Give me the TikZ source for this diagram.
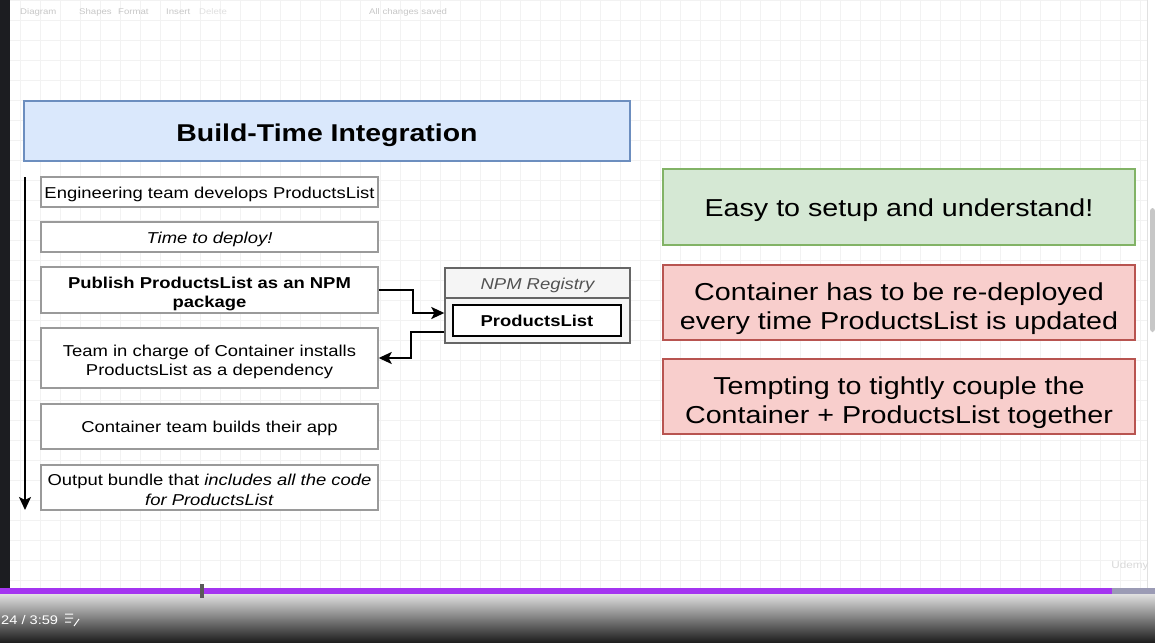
\documentclass[tikz,border=0pt]{standalone}
\usepackage{fontspec}
\setmainfont[FakeStretch=1.17]{Liberation Sans}
\usetikzlibrary{arrows.meta}
\definecolor{titlefill}{HTML}{DAE8FC}
\definecolor{titleline}{HTML}{6C8EBF}
\definecolor{goodfill}{HTML}{D5E8D4}
\definecolor{goodline}{HTML}{82B366}
\definecolor{badfill}{HTML}{F8CECC}
\definecolor{badline}{HTML}{B85450}
\definecolor{stepgray}{HTML}{9A9A9A}
\definecolor{regfill}{HTML}{F5F5F5}
\definecolor{regline}{HTML}{666666}
\definecolor{darkstrip}{HTML}{1C1D21}
\definecolor{progress}{HTML}{A435F0}
\definecolor{restbar}{HTML}{9B9BB5}
\newcommand\smalltop{\rule{0pt}{19.5pt}}
\newcommand\bigtop{\rule{0pt}{30pt}}
\tikzset{
	gridline/.style={black!5,line width=0.6pt},
	toolbartext/.style={black!22,font=\fontsize{8.2}{10}\selectfont,inner sep=0pt,anchor=west},
	linebox/.style 2 args={execute at begin node={\rule[-#2]{0pt}{\dimexpr#1+#2\relax}},execute at end node={\rule[-#2]{0pt}{\dimexpr#1+#2\relax}}},
	stepbox/.style={draw=stepgray,line width=1.4pt,fill=white,minimum width=337pt,inner sep=0pt,align=center,font=\fontsize{15.76}{19.3}\selectfont,linebox={16.2pt}{3.6pt}},
	notebox/.style={line width=1.4pt,minimum width=472pt,minimum height=75pt,inner sep=0pt,align=center,font=\fontsize{24.5}{29.3}\selectfont,linebox={25pt}{5.6pt}},
	flow/.style={-{Stealth[length=13pt,width=12pt,inset=3pt]},line width=1.8pt,black},
}
\begin{document}
\begin{tikzpicture}[x=1pt,y=-1pt]
	\useasboundingbox (0,0) rectangle (1155,642);
	\fill[white] (0,0) rectangle (1155,642);
	\draw[gridline,step=20pt] (10,0) grid (1147,596);
	\draw[black!12,line width=0.8pt] (1147,0) -- (1147,596);
	\fill[black!22,rounded corners=3pt] (1150,208) rectangle (1155,332);
	\fill[darkstrip] (0,0) rectangle (10,596);
	\node[toolbartext](tbdiagram) at (20,12){Diagram};
	\node[toolbartext](tbshapes) at (79,12){Shapes};
	\node[toolbartext](tbformat) at (118,12){Format};
	\node[toolbartext](tbinsert) at (166,12){Insert};
	\node[toolbartext,black!12](tbdelete) at (199,12){Delete};
	\node[toolbartext](tbsaved) at (369,12){All changes saved};
	\node[draw=titleline,fill=titlefill,line width=1.4pt,minimum width=606pt,minimum height=60pt,inner sep=0pt,font=\fontsize{24.3}{28}\selectfont\bfseries,linebox={27pt}{5.6pt}](title) at (327,131){Build-Time Integration};
	\node[stepbox,minimum height=30pt](develop) at (209.5,192){Engineering team develops ProductsList};
	\node[stepbox,minimum height=30pt](deploy) at (209.5,237){\itshape Time to deploy!};
	\node[stepbox,minimum height=46pt,font=\fontsize{15.76}{19.3}\selectfont\bfseries](publish) at (209.5,290){\smalltop Publish ProductsList as an NPM\\package};
	\node[stepbox,minimum height=60pt](install) at (209.5,358){\smalltop Team in charge of Container installs\\ProductsList as a dependency};
	\node[stepbox,minimum height=45pt](build) at (209.5,426.5){Container team builds their app};
	\node[stepbox,minimum height=45pt](bundle) at (209.5,487.5){\smalltop Output bundle that \textit{includes all the code}\\\textit{for ProductsList}};
	\node[draw=regline,fill=regfill,line width=1.4pt,minimum width=185pt,minimum height=75pt,inner sep=0pt](registry) at (537.5,305.5){};
	\draw[regline,line width=1.4pt] (445,298) -- (630,298);
	\node[regline!80!black,inner sep=0pt,font=\fontsize{15.76}{19.3}\selectfont\itshape,linebox={16.2pt}{3.6pt}](regtitle) at (537.5,283){NPM Registry};
	\node[draw=black,fill=white,line width=2pt,minimum width=168pt,minimum height=31pt,inner sep=0pt,font=\fontsize{15.76}{19.3}\selectfont\bfseries,linebox={16.2pt}{3.6pt}](package) at (537,320.5){ProductsList};
	\coordinate (flowtop) at (25,177);
	\coordinate (flowend) at (25,510);
	\draw[flow] (flowtop) -- (flowend);
	\draw[flow] (publish.east) -- ++(34,0) |- ([yshift=-7.5pt]registry.west);
	\draw[flow] ([yshift=-26.5pt]registry.west) -- ++(-33,0) |- (install.east);
	\node[notebox,draw=goodline,fill=goodfill,minimum height=76pt](easy) at (899,207){Easy to setup and understand!};
	\node[notebox,draw=badline,fill=badfill](redeploy) at (899,302.5){\bigtop Container has to be re-deployed\\every time ProductsList is updated};
	\node[notebox,draw=badline,fill=badfill](couple) at (899,396.5){\bigtop Tempting to tightly couple the\\Container + ProductsList together};
	\node[black!15,font=\fontsize{10}{12}\selectfont](watermark) at (1130,566){Udemy};
	\shade[top color=black!12,middle color=black!45,bottom color=black!88] (0,594) rectangle (1155,642);
	\fill[progress] (0,588) rectangle (1112,594);
	\fill[restbar] (1112,588) rectangle (1155,594);
	\fill[black!65] (200,584) rectangle (204,598);
	\node[white,font=\fontsize{12.5}{16}\selectfont,anchor=west,inner sep=0pt](timer) at (1,620){24 / 3:59};
	\draw[white,line width=1pt] (65,614) -- (73,614) (65,618) -- (73,618) (65,622) -- (71,622) (74,626) -- (79,619);
\end{tikzpicture}
\end{document}
